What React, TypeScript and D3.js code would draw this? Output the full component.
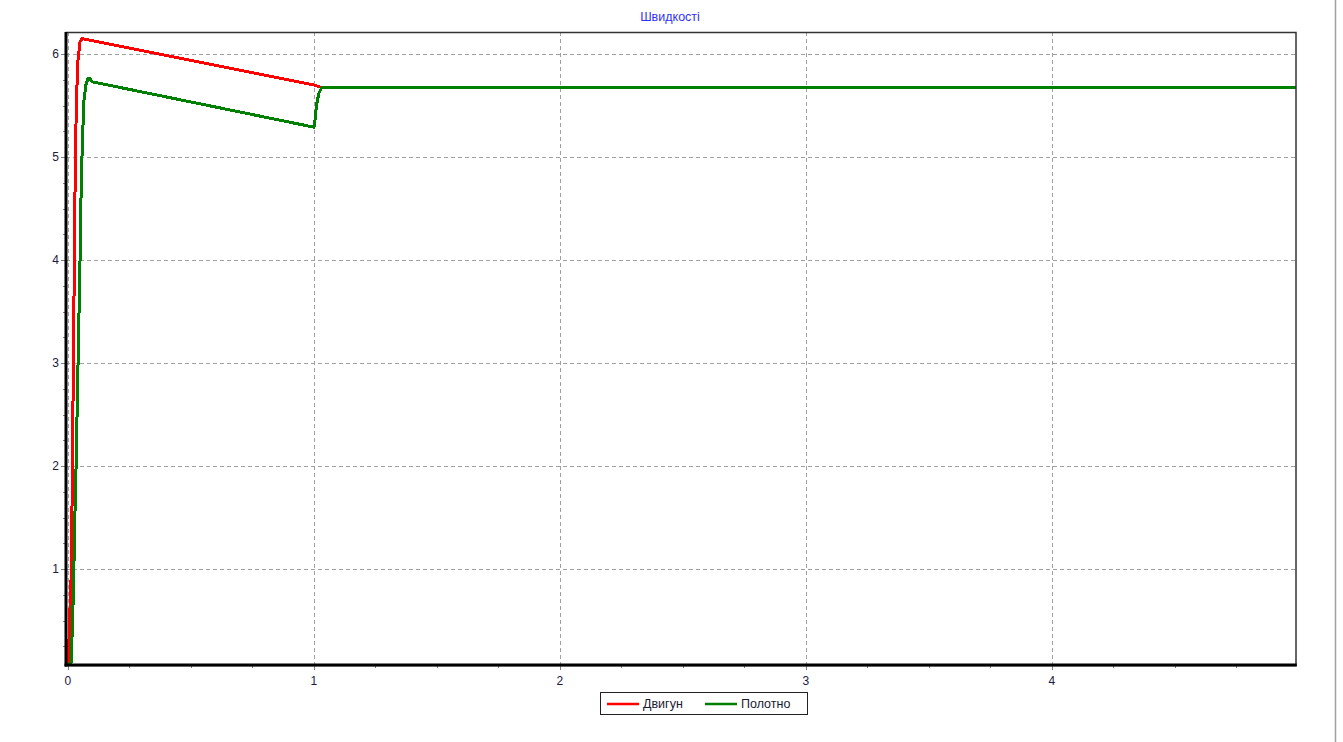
import React, { useEffect, useRef } from "react";
import * as d3 from "d3";

// Motor speed (Двигун) over time, s
const motorT = [0, 0.004, 0.008, 0.014, 0.018, 0.022, 0.026, 0.03, 0.035, 0.041, 0.049, 0.057, 1.0, 1.03, 5.0];
const motorV = [0.07, 0.3, 0.6, 1.0, 2.0, 3.0, 4.0, 5.0, 5.6, 5.95, 6.12, 6.15, 5.7, 5.675, 5.675];

// Belt speed (Полотно) over time, s
const beltT = [0, 0.012, 0.016, 0.02, 0.024, 0.028, 0.033, 0.041, 0.049, 0.053, 0.057, 0.061, 0.065, 0.073, 0.081, 0.089, 0.1, 1.0, 1.004, 1.01, 1.02, 1.032, 5.0];
const beltV = [0.07, 0.07, 0.3, 0.6, 1.0, 1.5, 2.0, 3.0, 4.0, 4.6, 5.0, 5.3, 5.55, 5.7, 5.76, 5.76, 5.73, 5.29, 5.35, 5.5, 5.62, 5.675, 5.675];

const xTicks = [0, 1, 2, 3, 4];
const yTicks = [1, 2, 3, 4, 5, 6];
const seriesNames = ["Двигун", "Полотно"];
const seriesColors = ["#ff0000", "#008000"];
const title = "Швидкості";

const W = 1343;
const H = 742;
const left = 66;
const right = 1296;
const top = 32;
const bottom = 665;

export default function App() {
  const ref = useRef<SVGSVGElement>(null);

  useEffect(() => {
    const svg = d3.select(ref.current);
    svg.selectAll("*").remove();

    const x = d3.scaleLinear().domain([-0.008, 4.992]).range([left, right]);
    const y = d3.scaleLinear().domain([0.068, 6.214]).range([bottom, top]);
    const font = "'Liberation Sans', Arial, sans-serif";

    svg.append("rect").attr("width", W).attr("height", H).attr("fill", "#fff");

    // page edge on the right
    svg.append("line")
      .attr("x1", 1335.5).attr("x2", 1335.5).attr("y1", 0).attr("y2", H)
      .attr("stroke", "#a0a0a0").attr("stroke-width", 1.5);

    // grid
    const grid = svg.append("g").attr("stroke", "#a0a0a0").attr("stroke-width", 1).attr("stroke-dasharray", "4,3");
    xTicks.forEach((t) => {
      grid.append("line").attr("x1", Math.round(x(t)) + 0.5).attr("x2", Math.round(x(t)) + 0.5)
        .attr("y1", top).attr("y2", bottom);
    });
    yTicks.forEach((t) => {
      grid.append("line").attr("y1", Math.round(y(t)) + 0.5).attr("y2", Math.round(y(t)) + 0.5)
        .attr("x1", left).attr("x2", right);
    });

    // minor/major ticks
    const tickG = svg.append("g").attr("stroke", "#808080").attr("stroke-width", 1);
    for (let v = 0.25; v <= 6.2; v += 0.25) {
      const yy = Math.round(y(v)) + 0.5;
      const major = Math.abs(v - Math.round(v)) < 1e-6;
      tickG.append("line").attr("x1", left - (major ? 5 : 3)).attr("x2", left).attr("y1", yy).attr("y2", yy);
    }
    for (let v = 0; v <= 4.99; v += 0.25) {
      const xx = Math.round(x(v)) + 0.5;
      const major = Math.abs(v - Math.round(v)) < 1e-6;
      tickG.append("line").attr("y1", bottom).attr("y2", bottom + (major ? 5 : 3)).attr("x1", xx).attr("x2", xx);
    }

    // series
    const line = d3.line<[number, number]>().x((d) => x(d[0])).y((d) => y(d[1]));
    const series: [number, number][][] = [
      motorT.map((t, i) => [t, motorV[i]]),
      beltT.map((t, i) => [t, beltV[i]]),
    ];
    const clip = svg.append("clipPath").attr("id", "plotclip");
    clip.append("rect").attr("x", left).attr("y", top).attr("width", right - left).attr("height", bottom - top);
    const plot = svg.append("g").attr("clip-path", "url(#plotclip)");
    [0, 1].forEach((i) => {
      plot.append("path").attr("d", line(series[i]) as string)
        .attr("fill", "none").attr("stroke", seriesColors[i]).attr("stroke-width", 3)
        .attr("stroke-linejoin", "round").attr("shape-rendering", "crispEdges");
    });

    // frame
    svg.append("rect").attr("x", left).attr("y", top + 0.5).attr("width", right - left).attr("height", bottom - top)
      .attr("fill", "none").attr("stroke", "#333").attr("stroke-width", 1.5);
    svg.append("line").attr("x1", left).attr("x2", left).attr("y1", top).attr("y2", bottom + 1.5)
      .attr("stroke", "#000").attr("stroke-width", 3);
    svg.append("line").attr("x1", left - 1.5).attr("x2", right + 0.75).attr("y1", bottom).attr("y2", bottom)
      .attr("stroke", "#000").attr("stroke-width", 3);

    // tick labels
    yTicks.forEach((t) => {
      svg.append("text").attr("x", left - 7).attr("y", y(t)).attr("dy", "0.35em")
        .attr("text-anchor", "end").attr("font-family", font).attr("font-size", 12).attr("fill", "#1a1a40")
        .text(String(t));
    });
    xTicks.forEach((t) => {
      svg.append("text").attr("x", x(t)).attr("y", bottom + 20)
        .attr("text-anchor", "middle").attr("font-family", font).attr("font-size", 12).attr("fill", "#1a1a40")
        .text(String(t));
    });

    // title
    svg.append("text").attr("x", 670).attr("y", 21).attr("text-anchor", "middle")
      .attr("font-family", font).attr("font-size", 12.5).attr("fill", "#3030ff").text(title);

    // legend
    const lg = svg.append("g");
    lg.append("rect").attr("x", 600.5).attr("y", 692.5).attr("width", 207).attr("height", 22)
      .attr("fill", "#fff").attr("stroke", "#222").attr("stroke-width", 1);
    const entries = [
      { x0: 607, tx: 643 },
      { x0: 705, tx: 741 },
    ];
    entries.forEach((e, i) => {
      lg.append("line").attr("x1", e.x0).attr("x2", e.x0 + 32).attr("y1", 704).attr("y2", 704)
        .attr("stroke", seriesColors[i]).attr("stroke-width", 2.5);
      lg.append("text").attr("x", e.tx).attr("y", 704).attr("dy", "0.35em")
        .attr("font-family", font).attr("font-size", 12.5).attr("fill", "#1a1a30").text(seriesNames[i]);
    });
  }, []);

  return (
    <svg ref={ref} width={W} height={H}
      style={{ position: "absolute", left: 0, top: 0, display: "block" }} />
  );
}
